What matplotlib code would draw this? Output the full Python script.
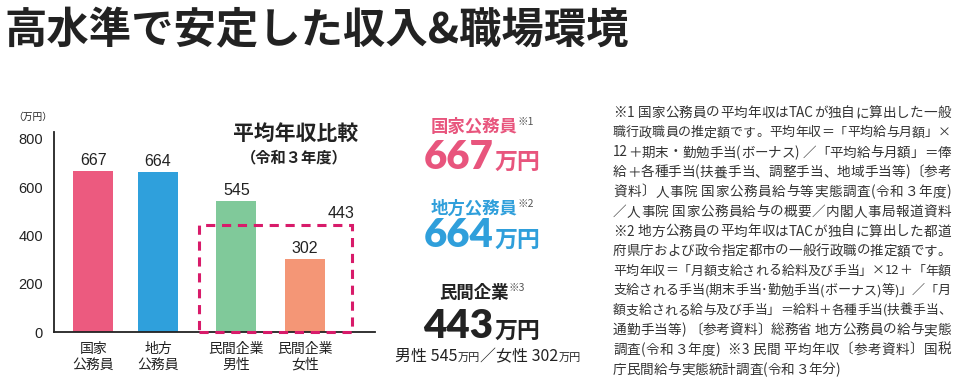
import matplotlib
matplotlib.use("Agg")
import matplotlib.pyplot as plt
from matplotlib.patches import Rectangle
from matplotlib.font_manager import FontProperties

plt.rcParams['font.family'] = ['Noto Sans CJK JP', 'DejaVu Sans']

# ---- data ----
categories = ["国家\n公務員", "地方\n公務員", "民間企業\n男性", "民間企業\n女性"]
values = [667, 664, 545, 302]
private_avg = 443
bar_colors = ["#ec5a7f", "#2fa0dc", "#80c99a", "#f49676"]
yticks = [0, 200, 400, 600, 800]
title = "高水準で安定した収入&職場環境"
chart_title = "平均年収比較"
chart_subtitle = "（令和３年度）"
unit_label = "（万円）"
summary = [
    ("国家公務員", "※1", "667", "#e8557d"),
    ("地方公務員", "※2", "664", "#2f9fdb"),
    ("民間企業", "※3", "443", "#222222"),
]
gender_line = [("男性 545", "万円"), ("／女性 302", "万円")]
notes = [
    "※1 国家公務員の平均年収はTACが独自に算出した一般",
    "職行政職員の推定額です。平均年収＝「平均給与月額」×",
    "12＋期末・勤勉手当(ボーナス) ／「平均給与月額」＝俸",
    "給＋各種手当(扶養手当、調整手当、地域手当等)〔参考",
    "資料〕人事院 国家公務員給与等実態調査(令和３年度)",
    "／人事院 国家公務員給与の概要／内閣人事局報道資料",
    "※2 地方公務員の平均年収はTACが独自に算出した都道",
    "府県庁および政令指定都市の一般行政職の推定額です。",
    "平均年収＝「月額支給される給料及び手当」×12＋「年額",
    "支給される手当(期末手当･勤勉手当(ボーナス)等)」／「月",
    "額支給される給与及び手当」＝給料＋各種手当(扶養手当、",
    "通勤手当等) 〔参考資料〕総務省 地方公務員の給与実態",
    "調査(令和３年度)  ※3 民間 平均年収〔参考資料〕国税",
    "庁民間給与実態統計調査(令和３年分)",
]

W, H = 960, 391
fig = plt.figure(figsize=(W / 100, H / 100), dpi=100)
renderer = fig.canvas.get_renderer()

def fx(x):
    return x / W

def fy(y):
    return 1 - y / H

NUMF = ['Liberation Sans', 'Noto Sans CJK JP']

# ---- main title ----
fig.text(fx(4), fy(31), title, fontsize=30.5, fontweight='bold', color='#222222',
         ha='left', va='center')

# ---- bar chart ----
ax_l, ax_r, ax_t, ax_b = 54, 375, 132, 332
ax = fig.add_axes([fx(ax_l), fy(ax_b), (ax_r - ax_l) / W, (ax_b - ax_t) / H])
xpos = [0, 0.949, 2.103, 3.110]
bw = 0.588
ax.bar(xpos, values, width=bw, color=bar_colors, zorder=2)
ax.set_xlim(-0.58, 4.14)
ax.set_ylim(0, 829)
for s in ['top', 'right']:
    ax.spines[s].set_visible(False)
for s in ['left', 'bottom']:
    ax.spines[s].set_color('#222222')
    ax.spines[s].set_linewidth(1.3)
ax.set_yticks(yticks)
ax.set_yticklabels([str(t) for t in yticks], family=NUMF, fontsize=10.5, color='#222222')
ax.tick_params(axis='y', length=0, pad=8)
ax.set_xticks(xpos)
ax.set_xticklabels(categories, fontsize=10, color='#222222', linespacing=1.2)
ax.tick_params(axis='x', length=0, pad=7)

for x, v in zip(xpos, values):
    ax.annotate(str(v), (x, v), xytext=(0, 2), textcoords='offset points',
                ha='center', va='bottom', family=NUMF, fontsize=11.5, color='#222222')

# dashed box for private average
rl = xpos[2] - bw / 2 - 0.26
rr = xpos[3] + bw / 2 + 0.40
rect = Rectangle((rl, 0), rr - rl, private_avg, fill=False, edgecolor='#d81b6a',
                 linewidth=2.2, linestyle=(0, (3, 2.2)), zorder=3, clip_on=False)
ax.add_patch(rect)
ax.annotate(str(private_avg), (rr, private_avg), xytext=(2, 3), textcoords='offset points',
            ha='right', va='bottom', family=NUMF, fontsize=11.5, color='#222222')

fig.text(fx(33), fy(117), unit_label, fontsize=7, color='#222222', ha='center', va='center')
fig.text(fx(296), fy(133), chart_title, fontsize=15, fontweight='bold', color='#222222',
         ha='center', va='center')
fig.text(fx(294), fy(157), chart_subtitle, fontsize=11, fontweight='bold', color='#222222',
         ha='center', va='center')

# ---- summary column ----
def seq_text(segs, cx, ybase):
    """segs: list of (text, kwargs, dy_px). Place sequentially centered at cx."""
    objs = []
    for t, kw, dy in segs:
        o = fig.text(0, fy(ybase - dy), t, ha='left', va='baseline', **kw)
        objs.append(o)
    widths = [o.get_window_extent(renderer=renderer).width for o in objs]
    total = sum(widths)
    x = cx - total / 2
    for o, w in zip(objs, widths):
        o.set_x(fx(x))
        x += w
    return objs

cx = 482
label_y = [132, 214, 298]
num_y = [169, 247, 338]
for (lab, sup, num, col), ly, ny in zip(summary, label_y, num_y):
    seq_text([(lab, dict(fontsize=12.5, fontweight='bold', color=col), 0),
              (sup, dict(fontsize=7.5, color='#555555'), 7)],
             cx, ly)
    seq_text([(num, dict(fontsize=29, fontweight='heavy', color=col,
                         family=['Lato', 'Noto Sans CJK JP']), 0),
              (" ", dict(fontsize=4), 0),
              ("万円", dict(fontsize=16.5, fontweight='bold', color=col), 0)],
             cx, ny)

segs = []
for num, unit in gender_line:
    segs.append((num, dict(fontsize=11.5, color='#222222'), 0))
    segs.append((unit, dict(fontsize=8, color='#222222'), 0))
seq_text(segs, 488, 361)

# ---- notes (justified) ----
def tokenize(s):
    toks = []
    buf = ""
    for c in s:
        if c.isascii() and c.isalnum():
            buf += c
        else:
            if buf:
                toks.append(buf)
                buf = ""
            toks.append(c)
    if buf:
        toks.append(buf)
    return toks

note_left, note_right = 613, 951
note_fs = 9.8
for i, line in enumerate(notes):
    fs = note_fs
    toks = tokenize(line)
    prop = FontProperties(family=['Noto Sans CJK JP', 'DejaVu Sans'], size=fs)
    ws = [renderer.get_text_width_height_descent(t, prop, ismath=False)[0] for t in toks]
    natural = sum(ws)
    target = note_right - note_left
    if natural > target:
        fs = fs * target / natural
        prop = FontProperties(family=['Noto Sans CJK JP', 'DejaVu Sans'], size=fs)
        ws = [renderer.get_text_width_height_descent(t, prop, ismath=False)[0] for t in toks]
        natural = sum(ws)
    last = (i == len(notes) - 1)
    gap = 0 if last or len(toks) < 2 else (target - natural) / (len(toks) - 1)
    x = note_left
    y = 113 + i * 19.75
    for t, w in zip(toks, ws):
        if t.strip():
            fig.text(fx(x), fy(y), t, fontsize=fs, color='#333333', ha='left', va='center')
        x += w + gap

fig.savefig("out.png", dpi=100, facecolor='white')
